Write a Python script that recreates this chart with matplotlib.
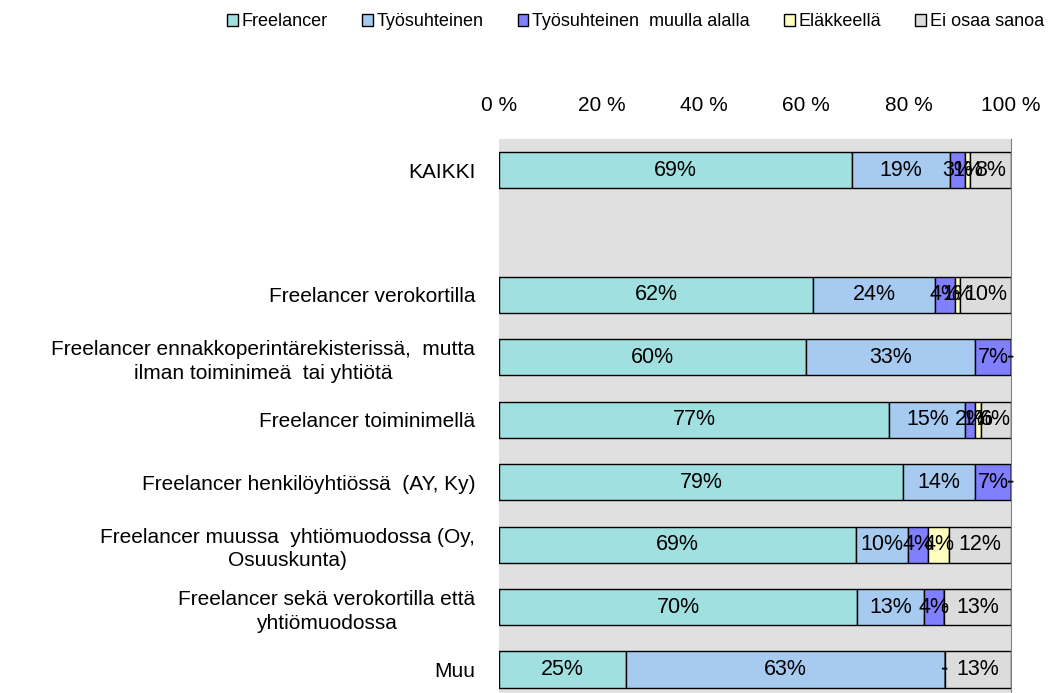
import matplotlib
matplotlib.use('agg')
import matplotlib.pyplot as plt
import numpy as np

plt.rcParams['font.family'] = ['Liberation Sans', 'DejaVu Sans']

categories = ['KAIKKI',
              '',
              'Freelancer verokortilla',
              'Freelancer ennakkoperintärekisterissä,  mutta\nilman toiminimeä  tai yhtiötä',
              'Freelancer toiminimellä',
              'Freelancer henkilöyhtiössä  (AY, Ky)',
              'Freelancer muussa  yhtiömuodossa (Oy,\nOsuuskunta)',
              'Freelancer sekä verokortilla että\nyhtiömuodossa',
              'Muu']
series = ['Freelancer', 'Työsuhteinen', 'Työsuhteinen  muulla alalla', 'Eläkkeellä', 'Ei osaa sanoa']
colors = ['#a0e0e0', '#a6caf0', '#8080ff', '#ffffc0', '#dcdcdc']

freelancer   = [69, np.nan, 62, 60, 77, 79, 69, 70, 25]
tyosuhteinen = [19, np.nan, 24, 33, 15, 14, 10, 13, 63]
muulla       = [3, np.nan, 4, 7, 2, 7, 4, 4, 0]
elakkeella   = [1, np.nan, 1, 0, 1, 0, 4, 0, 0]
ei_osaa      = [8, np.nan, 10, 0, 6, 0, 12, 13, 13]

data = np.array([freelancer, tyosuhteinen, muulla, elakkeella, ei_osaa], dtype=float)
totals = np.nansum(data, axis=0)

fig = plt.figure(figsize=(10.52, 6.93), dpi=100)
ax = fig.add_axes([0.4743, -0.011, 0.4867, 0.8105])
ax.set_facecolor('#e0e0e0')

y = np.arange(len(categories))
left = np.zeros(len(categories))
for i, name in enumerate(series):
    vals = data[i]
    share = np.where(np.isnan(vals), 0, vals / np.where(totals == 0, 1, totals) * 100)
    mask = ~np.isnan(vals)
    ax.barh(y[mask], share[mask], left=left[mask], height=0.58, color=colors[i],
            edgecolor='black', linewidth=1.0, label=name)
    for j in np.where(mask)[0]:
        txt = '%d%%' % vals[j] if vals[j] > 0 else '-'
        ax.text(left[j] + share[j] / 2, y[j], txt, ha='center', va='center', fontsize=15.5)
    left = left + share

ax.set_xlim(0, 100)
ax.set_ylim(len(categories) - 0.5, -0.5)
ax.set_yticks(y)
ax.set_yticklabels(categories, fontsize=15, multialignment='center', linespacing=1.3)
ax.xaxis.tick_top()
ax.set_xticks([0, 20, 40, 60, 80, 100])
ax.set_xticklabels(['0 %', '20 %', '40 %', '60 %', '80 %', '100 %'], fontsize=15)
ax.tick_params(axis='x', length=0, pad=17)
ax.tick_params(axis='y', length=0, pad=17)
for s in ['top', 'bottom', 'left']:
    ax.spines[s].set_visible(False)
ax.spines['right'].set_color('#808080')

handles, labels = ax.get_legend_handles_labels()
fig.legend(handles, labels, loc='upper center', bbox_to_anchor=(0.604, 1.004), ncol=5,
           frameon=False, fontsize=13, handlelength=0.6, handleheight=0.6,
           handletextpad=0.2, columnspacing=1.9)

plt.savefig('out.png', dpi=100)
